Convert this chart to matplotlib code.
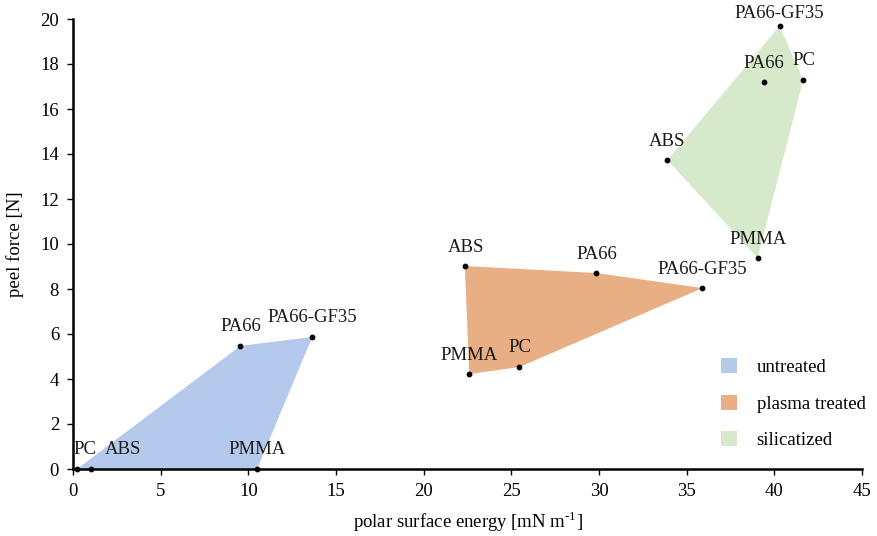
import matplotlib
matplotlib.use("Agg")
import matplotlib.pyplot as plt
from matplotlib.patches import Polygon, Patch

plt.rcParams['font.family'] = ['Liberation Serif', 'DejaVu Serif']
plt.rcParams['mathtext.fontset'] = 'custom'
plt.rcParams['mathtext.rm'] = 'Liberation Serif'

# polar surface energy [mN/m] and peel force [N] per material and treatment
materials = ["PC", "ABS", "PA66", "PA66-GF35", "PMMA"]

untreated_x = [0.23, 1.0, 9.55, 13.65, 10.5]
untreated_y = [0.0, 0.0, 5.47, 5.87, 0.0]

plasma_x = [25.45, 22.35, 29.85, 35.9, 22.6]
plasma_y = [4.53, 9.02, 8.71, 8.04, 4.22]

silicatized_x = [41.65, 33.9, 39.4, 40.3, 39.05]
silicatized_y = [17.29, 13.73, 17.2, 19.69, 9.38]

group_names = ["untreated", "plasma treated", "silicatized"]
group_colors = ["#b4c9eb", "#e8ae84", "#d6eacb"]

# outline order of each filled region (indices into materials)
hull_order = [
    [0, 2, 3, 4],
    [1, 2, 3, 0, 4],
    [3, 0, 4, 1],
]

# label offsets in pixels (dx, dy) relative to each point
label_offsets = [
    {"PC": (8, 19), "ABS": (32, 19), "PA66": (0, 19), "PA66-GF35": (0, 19), "PMMA": (0, 19)},
    {"PC": (1, 20), "ABS": (1, 19), "PA66": (0, 19), "PA66-GF35": (0, 19), "PMMA": (0, 19)},
    {"PC": (1, 19), "ABS": (0, 19), "PA66": (0, 19), "PA66-GF35": (0, 12), "PMMA": (0, 18)},
]

FS = 13.5

fig = plt.figure(figsize=(8.77, 5.36), dpi=100)
ax = fig.add_axes([73 / 877, 67 / 536, (862 - 73) / 877, (469 - 19) / 536])

groups = [(untreated_x, untreated_y), (plasma_x, plasma_y), (silicatized_x, silicatized_y)]
for (xs, ys), color, order, offs in zip(groups, group_colors, hull_order, label_offsets):
    verts = [(xs[i], ys[i]) for i in order]
    ax.add_patch(Polygon(verts, closed=True, facecolor=color, edgecolor="none", zorder=1))
    ax.scatter(xs, ys, s=10, color="black", zorder=3, clip_on=False)
    for name, x, y in zip(materials, xs, ys):
        dx, dy = offs[name]
        ax.annotate(name, (x, y), xytext=(dx, dy), textcoords="offset pixels",
                    ha="center", va="center", fontsize=FS, color="#1a1a1a", zorder=4)

ax.set_xlim(0, 45)
ax.set_ylim(0, 20)
ax.set_xticks(range(0, 46, 5))
ax.set_yticks(range(0, 21, 2))
ax.tick_params(axis="both", labelsize=FS, direction="out", length=4, width=1.0,
               colors="black", pad=6)
for side in ("top", "right"):
    ax.spines[side].set_visible(False)
for side in ("left", "bottom"):
    ax.spines[side].set_linewidth(1.8)

ax.set_xlabel("polar surface energy [mN m$^{\\text{-}\\mathrm{1}}$]", fontsize=FS, labelpad=7)
ax.set_ylabel("peel force [N]", fontsize=FS, labelpad=12)

handles = [Patch(facecolor=c, edgecolor="none") for c in group_colors]
leg = ax.legend(handles, group_names, loc="upper left", bbox_to_anchor=(648 / 789, 111 / 450),
                frameon=False, fontsize=FS, handlelength=0.85, handleheight=0.85,
                labelspacing=1.0, handletextpad=1.05, borderpad=0, borderaxespad=0)

fig.savefig("out.png", dpi=100)
